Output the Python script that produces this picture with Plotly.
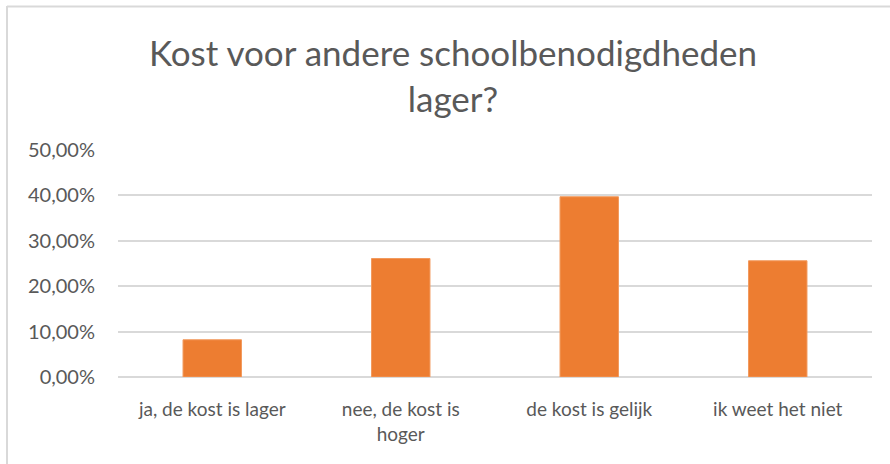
import plotly.graph_objects as go

categories = ["ja, de kost is lager", "nee, de kost is<br>hoger", "de kost is gelijk", "ik weet het niet"]
values = [0.082, 0.261, 0.397, 0.256]
y_ticks = [0, 0.1, 0.2, 0.3, 0.4, 0.5]
title_text = "Kost voor andere schoolbenodigdheden<br>lager?"

W, H = 890, 464
L, R, T, B = 118, 18, 150, 87
pw, ph = W - L - R, H - T - B

def px_to_paper_x(px):
    return (px - L) / pw

def px_to_paper_y(py):
    return (H - B - py) / ph

fig = go.Figure(go.Bar(
    x=categories, y=values,
    marker=dict(color="#ED7D31", line=dict(color="#F29A5E", width=1)),
    width=0.31,
))

font = "Lato, Carlito, Calibri, sans-serif"
fig.update_layout(
    width=W, height=H,
    margin=dict(l=L, r=R, t=T, b=B),
    paper_bgcolor="white", plot_bgcolor="white",
    separators=",.",
    showlegend=False,
    title=dict(text=title_text, x=453 / W, xanchor="center", xref="container",
               y=1 - 66 / H, yanchor="middle", yref="container",
               font=dict(family=font, size=35, color="#595959")),
    font=dict(family=font, color="#595959"),
)
fig.update_yaxes(range=[0, 0.5], tickvals=y_ticks, tickformat=".2%",
                 showgrid=True, gridcolor="#D9D9D9", gridwidth=1.5,
                 zeroline=True, zerolinecolor="#D9D9D9", zerolinewidth=1.5,
                 showline=False, ticks="", ticklabelstandoff=22,
                 tickfont=dict(family=font, size=20, color="#595959"))
fig.update_xaxes(showgrid=False, showline=False, ticks="", ticklabelstandoff=19,
                 tickfont=dict(family=font, size=19, color="#595959"))

border = "#D9D9D9"
fig.add_shape(type="line", xref="paper", yref="paper",
              x0=px_to_paper_x(7), x1=px_to_paper_x(W + 5),
              y0=px_to_paper_y(6.5), y1=px_to_paper_y(6.5),
              line=dict(color=border, width=2))
fig.add_shape(type="line", xref="paper", yref="paper",
              x0=px_to_paper_x(7), x1=px_to_paper_x(7),
              y0=px_to_paper_y(6), y1=px_to_paper_y(H + 5),
              line=dict(color=border, width=2))

fig.write_html("out.html", config={"displayModeBar": False},
               post_script="document.body.style.margin='0';")
